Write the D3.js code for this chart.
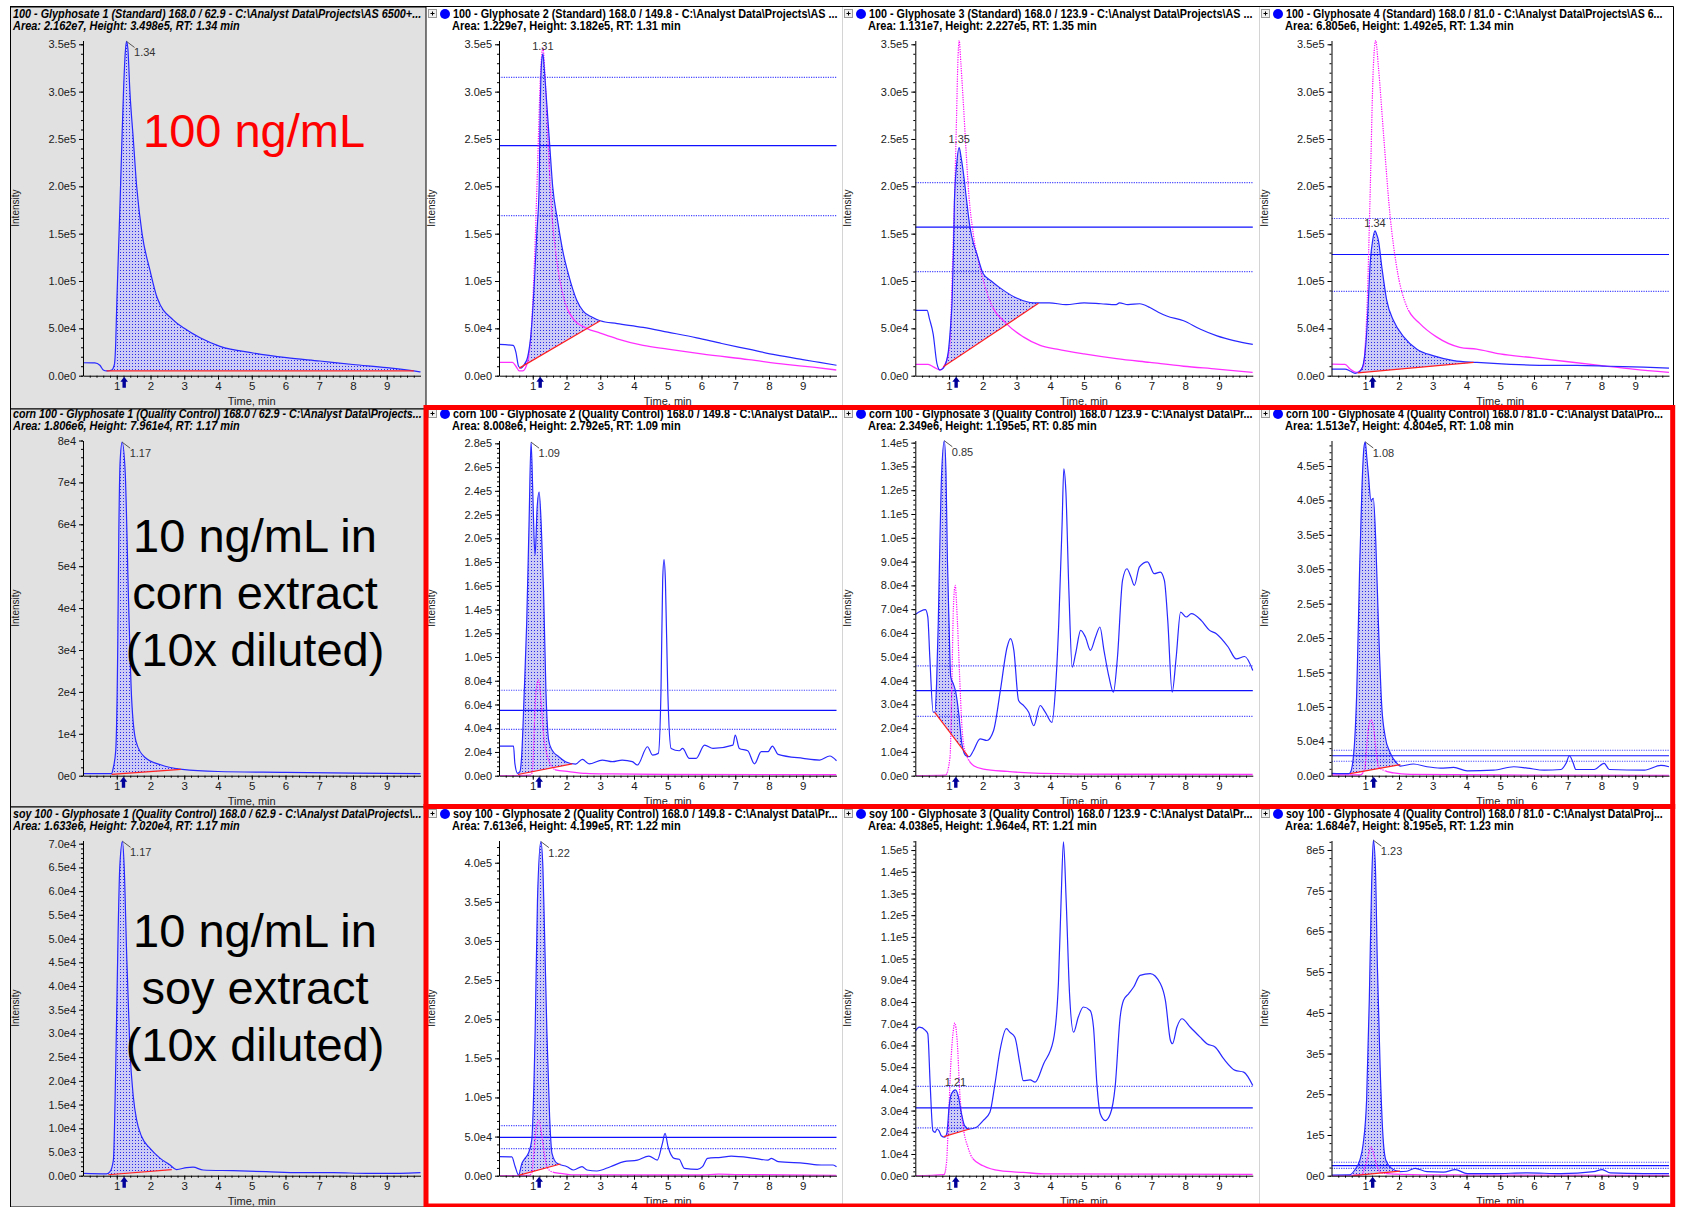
<!DOCTYPE html>
<html><head><meta charset="utf-8">
<script src="https://cdn.jsdelivr.net/npm/d3@7"></script>
<style>body{margin:0;background:#fff}svg{display:block}text{font-family:"Liberation Sans",Arial,sans-serif}</style>
</head><body><svg id="c" width="1681" height="1207"></svg>
<script>
// ---------------- DATA ----------------
const panelTitles = [
 "100 - Glyphosate 1 (Standard) 168.0 / 62.9 - C:\\Analyst Data\\Projects\\AS 6500+...",
 "100 - Glyphosate 2 (Standard) 168.0 / 149.8 - C:\\Analyst Data\\Projects\\AS ...",
 "100 - Glyphosate 3 (Standard) 168.0 / 123.9 - C:\\Analyst Data\\Projects\\AS ...",
 "100 - Glyphosate 4 (Standard) 168.0 / 81.0 - C:\\Analyst Data\\Projects\\AS 6...",
 "corn 100 - Glyphosate 1 (Quality Control) 168.0 / 62.9 - C:\\Analyst Data\\Projects...",
 "corn 100 - Glyphosate 2 (Quality Control) 168.0 / 149.8 - C:\\Analyst Data\\P...",
 "corn 100 - Glyphosate 3 (Quality Control) 168.0 / 123.9 - C:\\Analyst Data\\Pr...",
 "corn 100 - Glyphosate 4 (Quality Control) 168.0 / 81.0 - C:\\Analyst Data\\Pro...",
 "soy 100 - Glyphosate 1 (Quality Control) 168.0 / 62.9 - C:\\Analyst Data\\Projects\\...",
 "soy 100 - Glyphosate 2 (Quality Control) 168.0 / 149.8 - C:\\Analyst Data\\Pr...",
 "soy 100 - Glyphosate 3 (Quality Control) 168.0 / 123.9 - C:\\Analyst Data\\Pr...",
 "soy 100 - Glyphosate 4 (Quality Control) 168.0 / 81.0 - C:\\Analyst Data\\Proj..."
];
const panelAreas = [
 "Area: 2.162e7, Height: 3.498e5, RT: 1.34 min",
 "Area: 1.229e7, Height: 3.182e5, RT: 1.31 min",
 "Area: 1.131e7, Height: 2.227e5, RT: 1.35 min",
 "Area: 6.805e6, Height: 1.492e5, RT: 1.34 min",
 "Area: 1.806e6, Height: 7.961e4, RT: 1.17 min",
 "Area: 8.008e6, Height: 2.792e5, RT: 1.09 min",
 "Area: 2.349e6, Height: 1.195e5, RT: 0.85 min",
 "Area: 1.513e7, Height: 4.804e5, RT: 1.08 min",
 "Area: 1.633e6, Height: 7.020e4, RT: 1.17 min",
 "Area: 7.613e6, Height: 4.199e5, RT: 1.22 min",
 "Area: 4.038e5, Height: 1.964e4, RT: 1.21 min",
 "Area: 1.684e7, Height: 8.195e5, RT: 1.23 min"
];
const panelUnits  = [1e5,1e5,1e5,1e5, 1e4,1e4,1e4,1e5, 1e3,1e4,1e4,1e5];
const panelYMax   = [3.54,3.54,3.54,3.54, 8.0,28.24,14.09,4.871, 70.67,42.84,15.44,8.233];
const panelYStep  = [0.5,0.5,0.5,0.5, 1,2,1,0.5, 5,5,1,1];
const panelYDigits= [1,1,1,1, 0,1,1,1, 1,1,1,0];
const xTickValues = [1,2,3,4,5,6,7,8,9];
const xLabel = "Time, min";
const yLabel = "Intensity";

// blue (quantifier) traces: [time min, intensity in panel units]
const r1c1Blue = [[0,0.137],[0.35,0.135],[0.5,0.11],[0.6,0.06],[0.7,0.05],[0.85,0.06],[0.93,0.12],[0.97,0.35],[1.0,0.75],[1.05,1.3],[1.1,1.85],[1.15,2.45],[1.2,3.0],[1.25,3.4],[1.29,3.53],[1.33,3.45],[1.39,3.0],[1.49,2.5],[1.59,2.0],[1.75,1.5],[1.98,1.12],[2.2,0.82],[2.67,0.59],[3.0,0.5],[3.47,0.4],[4.06,0.31],[5.04,0.24],[6.03,0.19],[7.02,0.155],[8.0,0.118],[9.0,0.085],[9.8,0.05],[10,0.04]];
const r1c2Blue = [[0,0.33],[0.42,0.32],[0.5,0.25],[0.58,0.1],[0.65,0.08],[0.75,0.12],[0.85,0.2],[0.95,0.45],[1.05,1.0],[1.12,1.5],[1.19,2.0],[1.22,2.8],[1.26,3.3],[1.3,3.4],[1.34,3.25],[1.39,3.0],[1.5,2.45],[1.59,2.0],[1.73,1.65],[1.9,1.3],[2.05,1.08],[2.3,0.8],[2.5,0.68],[2.75,0.62],[3.0,0.58],[3.5,0.55],[4.27,0.51],[5.0,0.46],[5.86,0.40],[6.6,0.34],[7.4,0.28],[8.2,0.22],[9.0,0.17],[9.5,0.14],[10,0.11]];
const r1c3Blue = [[0,0.69],[0.35,0.69],[0.42,0.6],[0.53,0.44],[0.64,0.13],[0.73,0.06],[0.83,0.08],[0.92,0.15],[0.98,0.26],[1.04,0.5],[1.09,0.79],[1.13,1.3],[1.16,1.85],[1.23,2.25],[1.30,2.41],[1.36,2.3],[1.44,2.1],[1.52,1.85],[1.62,1.57],[1.72,1.4],[1.82,1.29],[2.01,1.08],[2.25,1.0],[2.5,0.93],[3.0,0.82],[3.5,0.77],[3.97,0.77],[4.47,0.75],[5.0,0.77],[5.5,0.76],[5.95,0.75],[6.05,0.77],[6.3,0.75],[6.65,0.76],[6.95,0.72],[7.2,0.67],[7.45,0.63],[7.95,0.58],[8.45,0.49],[8.94,0.42],[9.44,0.37],[10,0.33]];
const r1c4Blue = [[0,0.07],[0.4,0.07],[0.55,0.05],[0.70,0.025],[0.84,0.046],[0.94,0.12],[1.04,0.44],[1.1,0.85],[1.14,1.15],[1.22,1.43],[1.29,1.53],[1.33,1.5],[1.39,1.43],[1.49,1.15],[1.64,0.79],[1.84,0.58],[2.14,0.41],[2.53,0.28],[3.03,0.21],[3.62,0.16],[4.31,0.14],[5.3,0.12],[6.28,0.11],[7.27,0.11],[8.26,0.1],[9.25,0.09],[10,0.08]];
const r2c1Blue = [[0,0.05],[0.85,0.05],[0.9,0.2],[0.97,0.6],[1.03,3.1],[1.06,5.7],[1.1,7.5],[1.16,7.96],[1.25,7.25],[1.35,4.16],[1.44,1.85],[1.57,0.82],[1.83,0.44],[2.3,0.26],[2.94,0.15],[4,0.1],[6,0.08],[8,0.06],[10,0.05]];
const r2c2Blue = [[0,2.5],[0.43,2.5],[0.47,1.04],[0.55,0.2],[0.62,0.34],[0.67,1.6],[0.75,7.2],[0.82,12.8],[0.89,21.2],[0.95,28.1],[1.0,24.0],[1.04,20.0],[1.07,18.6],[1.13,22.6],[1.19,23.9],[1.25,21.2],[1.32,15.6],[1.39,7.2],[1.47,3.0],[1.57,2.16],[1.77,1.6],[1.97,1.18],[2.27,0.98],[2.47,1.38],[2.67,1.0],[3.06,1.32],[3.36,1.18],[3.65,1.32],[3.95,1.18],[4.1,0.9],[4.4,2.44],[4.55,1.74],[4.72,1.88],[4.8,7.2],[4.85,16.5],[4.89,18.2],[4.93,16.5],[5.0,7.2],[5.1,2.3],[5.34,2.1],[5.44,2.3],[5.64,1.46],[5.84,1.46],[6.09,2.58],[6.34,2.3],[6.93,2.58],[7.0,3.43],[7.12,2.3],[7.37,2.1],[7.57,1.0],[7.77,2.02],[7.97,2.02],[8.1,2.5],[8.27,1.8],[9.01,1.46],[9.5,1.32],[9.8,1.66],[10,1.26]];
const r2c3Blue = [[0,6.78],[0.3,6.98],[0.37,6.68],[0.43,4.98],[0.53,2.67],[0.58,2.67],[0.63,3.85],[0.68,6.39],[0.73,9.9],[0.78,12.7],[0.86,14.08],[0.91,12.7],[0.95,9.2],[1.0,6.39],[1.05,4.15],[1.13,3.85],[1.2,3.5],[1.28,2.7],[1.38,1.34],[1.5,0.84],[1.6,0.8],[1.72,1.05],[1.92,1.55],[2.12,1.48],[2.32,1.9],[2.52,3.58],[2.72,5.4],[2.82,5.76],[2.92,5.27],[3.06,3.16],[3.21,2.95],[3.36,2.67],[3.51,2.1],[3.7,2.95],[3.85,2.67],[4.05,2.24],[4.15,3.58],[4.25,6.39],[4.35,10.6],[4.4,12.9],[4.46,12.0],[4.55,7.8],[4.65,4.56],[4.75,5.13],[4.9,6.11],[5.04,5.83],[5.19,5.27],[5.34,5.83],[5.47,6.25],[5.59,5.27],[5.74,4.14],[5.87,3.51],[5.99,4.98],[6.14,8.21],[6.27,8.7],[6.39,8.35],[6.49,8.0],[6.64,8.78],[6.88,8.99],[7.08,8.49],[7.26,8.56],[7.38,8.21],[7.48,6.53],[7.61,3.51],[7.73,4.98],[7.86,6.88],[8.03,6.67],[8.18,6.81],[8.47,6.53],[8.72,6.11],[8.92,5.97],[9.27,5.41],[9.51,4.91],[9.76,5.01],[10,4.42]];
const r2c4Blue = [[0,0.035],[0.5,0.03],[0.55,0.04],[0.65,0.28],[0.75,1.25],[0.83,2.94],[0.9,4.15],[0.96,4.76],[1.0,4.85],[1.05,4.6],[1.09,4.39],[1.17,4.0],[1.24,4.03],[1.31,3.43],[1.39,2.21],[1.49,1.0],[1.59,0.57],[1.74,0.33],[1.94,0.18],[2.04,0.14],[2.43,0.17],[2.83,0.13],[3.23,0.11],[3.62,0.12],[4.02,0.07],[4.8,0.08],[5.4,0.13],[5.8,0.11],[6.3,0.08],[6.8,0.09],[6.95,0.18],[7.05,0.29],[7.15,0.2],[7.24,0.09],[7.78,0.09],[8.08,0.18],[8.23,0.09],[9.27,0.08],[9.76,0.15],[10,0.13]];
const r3c1Blue = [[0,0.5],[0.7,0.4],[0.8,0.84],[0.9,3.3],[0.97,23],[1.04,51.1],[1.09,65.2],[1.17,70.5],[1.22,65.2],[1.29,47.6],[1.39,26.5],[1.49,16.7],[1.59,11.7],[1.74,8.2],[1.98,5.8],[2.28,3.7],[2.57,2.3],[2.77,1.3],[3.07,1.7],[3.26,1.8],[3.56,1.2],[4.45,1.05],[5.43,0.84],[6.42,0.63],[7.41,0.63],[8.4,0.5],[9.39,0.5],[10,0.63]];
const r3c2Blue = [[0,2.43],[0.38,2.4],[0.48,1.15],[0.58,0.09],[0.68,1.58],[0.77,2.22],[0.87,2.86],[0.97,4.56],[1.07,18.2],[1.14,35.2],[1.24,42.7],[1.3,39.5],[1.35,31],[1.42,18.2],[1.5,7.5],[1.57,2.86],[1.72,1.58],[2.02,1.15],[2.21,0.73],[2.46,1.15],[2.61,0.73],[2.9,0.6],[3.3,1.15],[3.7,1.8],[4.1,2.0],[4.44,2.5],[4.69,2.0],[4.84,4.1],[4.92,5.4],[5.01,3.7],[5.19,2.22],[5.34,2.1],[5.49,0.94],[5.88,0.82],[6.03,1.15],[6.18,2.22],[6.58,2.35],[6.88,2.5],[7.57,2.22],[7.97,2.0],[8.07,2.22],[8.27,1.8],[9.06,1.58],[9.55,1.37],[9.9,1.37],[10,1.15]];
const r3c3Blue = [[0,6.66],[0.12,6.84],[0.3,6.69],[0.37,6.54],[0.44,4.23],[0.52,2.08],[0.59,2.0],[0.64,2.15],[0.7,2.08],[0.77,1.84],[0.87,1.77],[0.94,2.0],[1.0,3.15],[1.07,3.77],[1.19,3.95],[1.27,3.69],[1.37,2.85],[1.46,2.31],[1.61,2.15],[1.81,2.23],[2.01,2.54],[2.21,2.92],[2.36,4.23],[2.51,5.77],[2.7,6.77],[2.8,6.61],[2.95,6.38],[3.1,5.15],[3.2,4.38],[3.4,4.41],[3.55,4.31],[3.8,5.15],[4.09,6.23],[4.24,8.85],[4.32,12.69],[4.39,15.38],[4.47,12.69],[4.57,8.38],[4.69,6.61],[4.83,7.31],[4.98,7.77],[5.18,7.61],[5.28,6.84],[5.38,4.23],[5.48,2.85],[5.63,2.54],[5.78,2.85],[5.92,4.08],[6.07,7.31],[6.17,8.08],[6.32,8.38],[6.47,8.69],[6.66,9.23],[6.96,9.31],[7.26,8.85],[7.41,8.08],[7.56,6.23],[7.62,6.08],[7.75,6.84],[7.9,7.23],[8.15,6.84],[8.44,6.38],[8.64,6.08],[8.89,5.92],[9.14,5.38],[9.48,4.85],[9.73,4.77],[10,4.15]];
const r3c4Blue = [[0,0.017],[0.54,0.02],[0.69,0.14],[0.84,0.38],[0.94,0.79],[1.04,1.86],[1.12,4.32],[1.19,7.19],[1.24,8.24],[1.3,7.6],[1.36,5.14],[1.44,2.68],[1.52,1.04],[1.61,0.38],[1.78,0.18],[2.03,0.1],[2.23,0.11],[2.48,0.18],[2.83,0.1],[3.32,0.09],[3.67,0.15],[4.02,0.05],[4.8,0.05],[5.8,0.07],[6.8,0.05],[7.77,0.1],[8.02,0.15],[8.26,0.07],[9.25,0.05],[10,0.05]];

// magenta (reference ion) traces
const r1c2Pink = [[0,0.14],[0.4,0.14],[0.5,0.1],[0.6,0.05],[0.7,0.05],[0.85,0.15],[0.95,0.45],[1.05,1.2],[1.15,2.3],[1.22,3.1],[1.3,3.46],[1.36,3.2],[1.45,2.5],[1.55,1.8],[1.7,1.25],[1.9,0.85],[2.2,0.6],[2.6,0.5],[3.0,0.45],[3.5,0.39],[4.27,0.32],[5,0.28],[6,0.23],[7.4,0.17],[8.5,0.12],[9.3,0.09],[10,0.06]];
const r1c3Pink = [[0,0.12],[0.38,0.12],[0.55,0.09],[0.73,0.06],[0.88,0.12],[1.02,0.3],[1.08,0.9],[1.13,1.5],[1.17,1.98],[1.22,2.7],[1.26,3.3],[1.30,3.54],[1.35,3.3],[1.42,2.9],[1.5,2.4],[1.57,1.99],[1.72,1.49],[1.92,1.14],[2.21,0.79],[2.7,0.55],[3.2,0.41],[3.7,0.32],[4.2,0.28],[5.0,0.23],[5.96,0.18],[6.95,0.14],[7.95,0.10],[8.94,0.07],[10,0.035]];
const r1c4Pink = [[0,0.123],[0.4,0.12],[0.55,0.07],[0.74,0.035],[0.94,0.1],[1.06,0.79],[1.14,1.85],[1.24,3.26],[1.31,3.54],[1.39,3.26],[1.54,2.56],[1.73,1.71],[1.93,1.15],[2.23,0.73],[2.62,0.55],[3.11,0.41],[3.8,0.3],[4.3,0.28],[4.99,0.23],[5.97,0.19],[6.95,0.15],[7.94,0.11],[8.93,0.07],[10,0.035]];
const r2c2Pink = [[0,0],[0.95,0.05],[1.0,0.76],[1.05,4.4],[1.1,7.2],[1.17,8.05],[1.24,6.5],[1.32,3.5],[1.44,1.6],[1.57,0.76],[1.67,0.5],[2.07,0.35],[2.57,0.2],[3.36,0.15],[5,0.1],[10,0.08]];
const r2c3Pink = [[0,0],[0.9,0.02],[1.03,0.8],[1.08,3.6],[1.13,7.1],[1.18,8.0],[1.25,6.4],[1.31,4.3],[1.38,2.1],[1.48,1.0],[1.73,0.42],[2.02,0.28],[2.72,0.18],[3.7,0.1],[6,0.06],[10,0.05]];
const r2c4Pink = [[0,0.01],[0.85,0.01],[0.99,0.1],[1.02,0.28],[1.09,0.67],[1.17,0.81],[1.24,0.71],[1.32,0.37],[1.39,0.13],[1.54,0.08],[1.84,0.04],[2.33,0.02],[5,0.01],[10,0.005]];
const r3c2Pink = [[0,0],[0.9,0.05],[0.97,0.3],[1.04,3.3],[1.12,6.5],[1.18,7.0],[1.26,5.4],[1.34,2.9],[1.42,1.15],[1.57,0.5],[1.82,0.3],[2.22,0.1],[6.0,0.09],[6.5,0.2],[7.0,0.15],[10,0.05]];
const r3c3Pink = [[0,0],[0.85,0.05],[0.92,0.5],[0.97,2.0],[1.05,5.08],[1.12,6.61],[1.17,7.03],[1.24,6.23],[1.32,3.77],[1.42,2.23],[1.56,1.31],[1.71,0.77],[2.01,0.46],[2.51,0.23],[3.2,0.15],[3.9,0.08],[10,0.06]];
const r3c4Pink = [[0,0.0],[0.9,0.02],[0.99,0.2],[1.09,0.5],[1.17,0.71],[1.26,0.5],[1.36,0.2],[1.49,0.07],[1.84,0.04],[3,0.02],[10,0.01]];

const blueTraces = [r1c1Blue,r1c2Blue,r1c3Blue,r1c4Blue, r2c1Blue,r2c2Blue,r2c3Blue,r2c4Blue, r3c1Blue,r3c2Blue,r3c3Blue,r3c4Blue];
const pinkTraces = [null,r1c2Pink,r1c3Pink,r1c4Pink, null,r2c2Pink,r2c3Pink,r2c4Pink, null,r3c2Pink,r3c3Pink,r3c4Pink];
const pinkDottedRange = [null,[0.9,2.0],[1.0,2.3],[1.0,2.3], null,[0.95,1.65],[0.95,1.6],[0.95,1.6], null,[0.95,1.6],[0.9,1.7],[0.95,1.6]];
// integration baselines [[t0,v0],[t1,v1]]
const baselines = [
 [[0.7,0.05],[9.8,0.05]], [[0.6,0.08],[3.0,0.58]], [[0.83,0.095],[3.65,0.765]], [[0.78,0.03],[4.21,0.14]],
 [[0.85,0.03],[2.9,0.15]], [[0.56,0.1],[2.17,1.0]], [[0.57,2.67],[1.57,0.8]], [[0.55,0.03],[2.04,0.16]],
 [[0.75,0.2],[2.63,1.3]], [[0.58,0.05],[1.82,1.5]], [[0.84,1.8],[1.61,2.15]], [[0.64,0.0],[2.03,0.11]]
];
// ion-ratio tolerance lines [upper, expected, lower]
const ratioLines = [null,[3.15,2.43,1.69],[2.04,1.57,1.10],[1.66,1.28,0.89],
 null,[7.2,5.5,3.9],[4.62,3.58,2.49],[0.37,0.29,0.21],
 null,[6.4,4.9,3.45],[4.11,3.12,2.2],[0.33,0.246,0.18]];
const peakApex = [[1.29,3.53],[1.30,3.40],[1.30,2.41],[1.29,1.53],[1.16,7.96],[0.95,28.1],[0.86,14.08],[1.0,4.85],[1.17,70.5],[1.24,42.7],[1.19,3.95],[1.24,8.24]];
const peakLabels = ["1.34","1.31","1.35","1.34","1.17","1.09","0.85","1.08","1.17","1.22","1.21","1.23"];
const peakLabelMode = ["right","above","above","above","right","right","right","right","right","right","above","right"];
const expectedRT = [1.22,1.22,1.21,1.22,1.2,1.19,1.2,1.25,1.22,1.19,1.2,1.22];
const rowNotes = [["100 ng/mL"],["10 ng/mL in","corn extract","(10x diluted)"],["10 ng/mL in","soy extract","(10x diluted)"]];
const rowNoteColors = ["#ff0000","#000000","#000000"];

// ---------------- LAYOUT ----------------
const svg = d3.select("#c");
const W = 1681, H = 1207;
const colX = [83, 499, 915.3, 1331.5];
const colLeft = [10.5, 427, 843, 1260];
const titleLen = [409, 385, 384, 377];
const rowZero = [375.7, 775.7, 1175.7];
const plotW = 337.5, plotH = 335.2;
const rowPanelTop = [7, 409, 807], rowPanelBot = [409, 807, 1207];

svg.append("rect").attr("width", W).attr("height", H).attr("fill", "#fff");
const defs = svg.append("defs");
const pat = defs.append("pattern").attr("id", "dots").attr("width", 3).attr("height", 3).attr("patternUnits", "userSpaceOnUse");
pat.append("rect").attr("width", 3).attr("height", 3).attr("fill", "#cbcbf6");
pat.append("rect").attr("width", 1).attr("height", 1).attr("fill", "#2a2ae6");

// column 1 grey panels
for (let r = 0; r < 3; r++) {
  svg.append("rect").attr("x", colLeft[0]).attr("y", rowPanelTop[r]).attr("width", colLeft[1] - colLeft[0] - 1)
    .attr("height", rowPanelBot[r] - rowPanelTop[r]).attr("fill", "#e1e1e1").attr("stroke", "#000").attr("stroke-width", 1);
}
// frame lines
svg.append("line").attr("x1", 10).attr("x2", 1673.5).attr("y1", 6.5).attr("y2", 6.5).attr("stroke", "#000");
svg.append("line").attr("x1", 1673.5).attr("x2", 1673.5).attr("y1", 6.5).attr("y2", 409).attr("stroke", "#000");
[colLeft[2] - 0.5, colLeft[3] - 0.5].forEach(xx => svg.append("line").attr("x1", xx).attr("x2", xx).attr("y1", 7).attr("y2", 1207).attr("stroke", "#d4d4d4"));

function interp(pts, t) {
  for (let k = 1; k < pts.length; k++) {
    if (t <= pts[k][0]) { const a = pts[k - 1], b = pts[k]; return a[1] + (b[1] - a[1]) * (t - a[0]) / (b[0] - a[0]); }
  }
  return pts[pts.length - 1][1];
}
// header text squeezed horizontally to a target width
function fitText(parent, tx, ty, str, width, italic) {
  const t = parent.append("text").attr("font-size", 12).attr("font-weight", "bold")
    .attr("font-style", italic ? "italic" : "normal").text(str);
  const nat = t.node().getComputedTextLength();
  const sx = Math.min(1, width / nat);
  t.attr("transform", `translate(${tx},${ty}) scale(${sx},1)`);
  return t;
}

for (let i = 0; i < 12; i++) {
  const r = Math.floor(i / 4), c = i % 4;
  const cx = colX[c], zero = rowZero[r];
  const x = d3.scaleLinear().domain([0, 10]).range([cx, cx + plotW]);
  const y = d3.scaleLinear().domain([0, panelYMax[i]]).range([zero, zero - plotH]);
  const g = svg.append("g");
  const unit = panelUnits[i];

  // header
  const hx = c === 0 ? 13 : colLeft[c] + 26;
  if (c > 0) {
    g.append("rect").attr("x", colLeft[c] + 1.5).attr("y", 9.5 + 400 * r).attr("width", 8).attr("height", 8).attr("fill", "#f0f0f0").attr("stroke", "#9a9a9a");
    g.append("path").attr("d", `M${colLeft[c] + 3.5},${13.5 + 400 * r}h4M${colLeft[c] + 5.5},${11.5 + 400 * r}v4`).attr("stroke", "#000");
    g.append("circle").attr("cx", colLeft[c] + 18).attr("cy", 14 + 400 * r).attr("r", 5).attr("fill", "#0000ff");
  }
  fitText(g, hx, 18 + 400 * r, panelTitles[i], titleLen[c], c === 0);
  fitText(g, c === 0 ? 13 : hx - 1, 30 + 400 * r, panelAreas[i], c === 0 ? 227 : 229, c === 0);

  // clip
  defs.append("clipPath").attr("id", "clip" + i).append("rect").attr("x", cx).attr("y", zero - plotH - 3).attr("width", plotW + 1).attr("height", plotH + 3);
  const body = g.append("g").attr("clip-path", `url(#clip${i})`);
  const blue = blueTraces[i];
  const line = d3.line().x(d => x(d[0])).y(d => y(d[1])).curve(d3.curveMonotoneX);

  // integrated fill
  const bl = baselines[i];
  const t0 = bl[0][0], t1 = bl[1][0];
  const basAt = t => bl[0][1] + (bl[1][1] - bl[0][1]) * (t - t0) / (t1 - t0);
  const fillPts = [[t0, interp(blue, t0)], ...blue.filter(p => p[0] > t0 && p[0] < t1), [t1, interp(blue, t1)]];
  body.append("path").datum(fillPts).attr("fill", "url(#dots)").attr("stroke", "none")
    .attr("d", d3.area().x(d => x(d[0])).y0(d => y(basAt(d[0]))).y1(d => y(d[1])).curve(d3.curveMonotoneX));

  // ratio tolerance lines
  if (ratioLines[i]) {
    ratioLines[i].forEach((v, k) => {
      body.append("line").attr("x1", x(0)).attr("x2", x(10)).attr("y1", y(v)).attr("y2", y(v))
        .attr("stroke", k === 1 ? "#1010ff" : "#4848ff").attr("stroke-width", 1.2)
        .attr("stroke-dasharray", k === 1 ? null : "1.2,1.2");
    });
  }

  // pink trace (dotted in peak window, solid elsewhere)
  if (pinkTraces[i]) {
    const [d0, d1] = pinkDottedRange[i];
    const cpIn = defs.append("clipPath").attr("id", "pin" + i);
    cpIn.append("rect").attr("x", x(d0)).attr("y", zero - plotH - 3).attr("width", x(d1) - x(d0)).attr("height", plotH + 4);
    const cpOut = defs.append("clipPath").attr("id", "pout" + i);
    cpOut.append("rect").attr("x", x(0)).attr("y", zero - plotH - 3).attr("width", x(d0) - x(0)).attr("height", plotH + 4);
    cpOut.append("rect").attr("x", x(d1)).attr("y", zero - plotH - 3).attr("width", x(10) - x(d1)).attr("height", plotH + 4);
    body.append("g").attr("clip-path", `url(#pout${i})`).append("path").datum(pinkTraces[i]).attr("d", line)
      .attr("fill", "none").attr("stroke", "#ff30ff").attr("stroke-width", 1.3);
    body.append("g").attr("clip-path", `url(#pin${i})`).append("path").datum(pinkTraces[i]).attr("d", line)
      .attr("fill", "none").attr("stroke", "#ff00ff").attr("stroke-width", 1.2).attr("stroke-dasharray", "1.2,1.2");
  }

  // blue trace
  body.append("path").datum(blue).attr("d", line).attr("fill", "none").attr("stroke", "#2828ff").attr("stroke-width", 1.2);

  // red baseline
  body.append("path").datum(bl).attr("d", d3.line().x(d => x(d[0])).y(d => y(d[1])))
    .attr("fill", "none").attr("stroke", "#ff2020").attr("stroke-width", 1.2);

  // axes
  const yTicks = d3.range(0, panelYMax[i] + 1e-9, panelYStep[i]);
  const yMinor = d3.range(0, panelYMax[i] + 1e-9, panelYStep[i] / 5);
  const fmt = v => (v * unit).toExponential(panelYDigits[i]).replace("+", "");
  const ya = g.append("g").attr("transform", `translate(${cx},0)`)
    .call(d3.axisLeft(y).tickValues(yTicks).tickFormat(fmt).tickSize(4).tickSizeOuter(0).tickPadding(3));
  g.append("g").attr("transform", `translate(${cx},0)`)
    .call(d3.axisLeft(y).tickValues(yMinor).tickFormat("").tickSize(2).tickSizeOuter(0)).select(".domain").remove();
  const xa = g.append("g").attr("transform", `translate(0,${zero})`)
    .call(d3.axisBottom(x).tickValues(xTickValues).tickFormat(d3.format("d")).tickSize(4).tickSizeOuter(0).tickPadding(2));
  g.append("g").attr("transform", `translate(0,${zero})`)
    .call(d3.axisBottom(x).tickValues(d3.range(0.2, 10, 0.2)).tickFormat("").tickSize(2).tickSizeOuter(0)).select(".domain").remove();
  [ya, xa].forEach(a => {
    a.selectAll("text").attr("font-size", 11.5).attr("fill", "#1a1a1a");
    a.selectAll("line").attr("stroke", "#000");
    a.select(".domain").attr("stroke", "#000");
  });
  ya.selectAll("text").attr("font-size", 11);

  // axis titles
  g.append("text").attr("transform", `translate(${cx - 64},${zero - plotH / 2}) rotate(-90)`)
    .attr("text-anchor", "middle").attr("font-size", 10).attr("fill", "#222").text(yLabel);
  g.append("text").attr("x", x(5)).attr("y", zero + 29.5).attr("text-anchor", "middle").attr("font-size", 11).attr("fill", "#222").text(xLabel);

  // peak label
  const [pt, pv] = peakApex[i];
  const px = x(pt), py = y(pv);
  if (peakLabelMode[i] === "right") {
    g.append("line").attr("x1", px).attr("y1", py).attr("x2", px + 8).attr("y2", py + 6).attr("stroke", "#555");
    g.append("text").attr("x", px + 7.5).attr("y", py + 15).attr("font-size", 11).attr("fill", "#333").text(peakLabels[i]);
  } else {
    g.append("text").attr("x", px).attr("y", py - 4).attr("text-anchor", "middle").attr("font-size", 11).attr("fill", "#333").text(peakLabels[i]);
  }

  // expected RT arrow
  const ax = x(expectedRT[i]);
  g.append("path").attr("d", `M${ax},${zero + 1}l3.8,5h-2.1v6h-3.4v-6h-2.1z`).attr("fill", "#00009a");
}

// big annotations in column 1
const noteBase = [[147], [552, 609, 666], [947, 1004, 1061]];
rowNotes.forEach((lines, r) => {
  lines.forEach((s, k) => {
    svg.append("text").attr("x", r === 0 ? 143 : 255).attr("y", noteBase[r][k])
      .attr("text-anchor", r === 0 ? "start" : "middle").attr("font-size", 47).attr("fill", rowNoteColors[r]).text(s);
  });
});

// red highlight boxes
[407.5, 806.5].forEach((yy, k) => {
  svg.append("rect").attr("x", 426).attr("y", yy).attr("width", 1246.7).attr("height", k === 0 ? 399 : 399.5)
    .attr("fill", "none").attr("stroke", "#ff0000").attr("stroke-width", 5);
});
</script></body></html>
